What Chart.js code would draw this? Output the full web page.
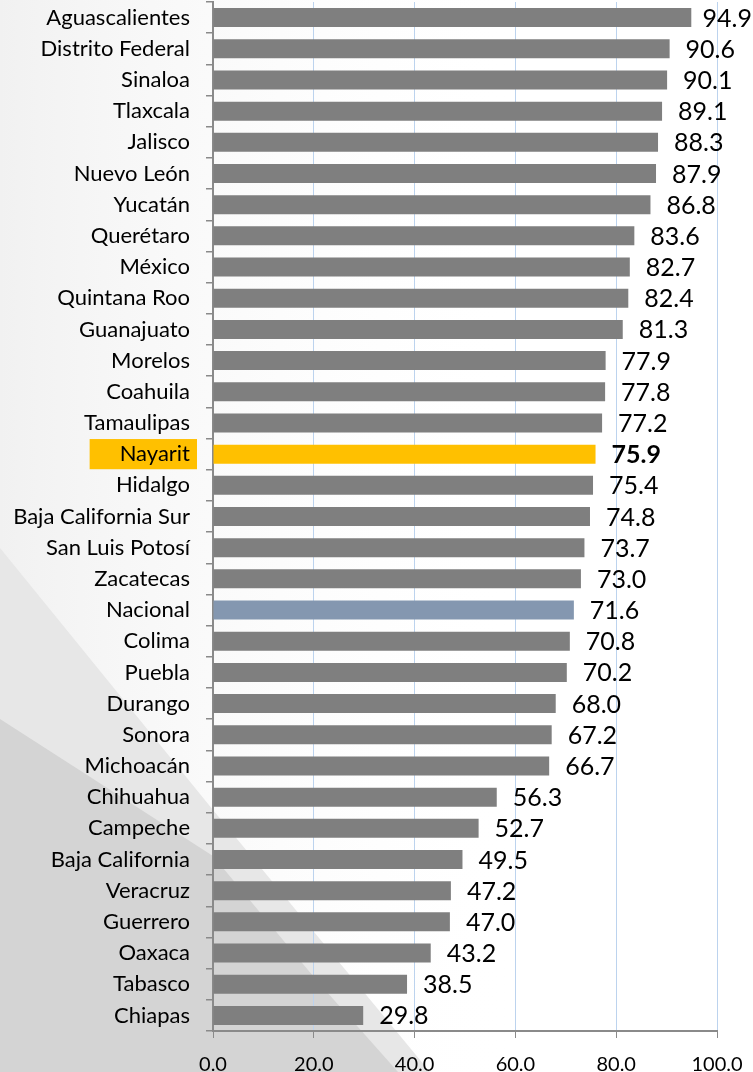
<!DOCTYPE html>
<html lang="es">
<head>
<meta charset="utf-8">
<title>Entidades federativas</title>
<script src="https://cdn.jsdelivr.net/npm/chart.js@4.4.1/dist/chart.umd.min.js"></script>
<style>
    html, body { margin: 0; padding: 0; background: #ffffff; }
    #wrap { width: 753px; height: 1072px; position: relative; }
</style>
</head>
<body>
<div id="wrap"><canvas id="chart"></canvas></div>
<script>
// ---- data ----
const estados = [
    'Aguascalientes', 'Distrito Federal', 'Sinaloa', 'Tlaxcala', 'Jalisco',
    'Nuevo León', 'Yucatán', 'Querétaro', 'México', 'Quintana Roo',
    'Guanajuato', 'Morelos', 'Coahuila', 'Tamaulipas', 'Nayarit',
    'Hidalgo', 'Baja California Sur', 'San Luis Potosí', 'Zacatecas', 'Nacional',
    'Colima', 'Puebla', 'Durango', 'Sonora', 'Michoacán',
    'Chihuahua', 'Campeche', 'Baja California', 'Veracruz', 'Guerrero',
    'Oaxaca', 'Tabasco', 'Chiapas'
];
const valores = [
    94.9, 90.6, 90.1, 89.1, 88.3,
    87.9, 86.8, 83.6, 82.7, 82.4,
    81.3, 77.9, 77.8, 77.2, 75.9,
    75.4, 74.8, 73.7, 73.0, 71.6,
    70.8, 70.2, 68.0, 67.2, 66.7,
    56.3, 52.7, 49.5, 47.2, 47.0,
    43.2, 38.5, 29.8
];
const xTicks = [0, 20, 40, 60, 80, 100];

const DESTACADO = 'Nayarit';
const REFERENCIA = 'Nacional';

const GRIS = '#7F7F7F';
const AMARILLO = '#FFC000';
const AZUL = '#8497B0';
const EJE = '#8A8A8A';
const FONT = 'Lato, "Open Sans", sans-serif';

const colores = estados.map(e => e === DESTACADO ? AMARILLO : (e === REFERENCIA ? AZUL : GRIS));

// Slide background: pale left side with grey diagonal swooshes
const fondo = {
    id: 'fondo',
    beforeDraw(chart) {
        const ctx = chart.ctx;
        const w = chart.width, h = chart.height;
        ctx.save();
        ctx.fillStyle = '#ffffff';
        ctx.fillRect(0, 0, w, h);

        const g = ctx.createLinearGradient(0, 0, 520, 0);
        g.addColorStop(0, '#f1f1f1');
        g.addColorStop(1, 'rgba(255,255,255,0)');
        ctx.fillStyle = g;
        ctx.fillRect(0, 0, w, h);

        ctx.fillStyle = '#e7e7e7';
        ctx.beginPath();
        ctx.moveTo(0, 548);
        ctx.lineTo(213, 810);
        ctx.lineTo(430, h);
        ctx.lineTo(0, h);
        ctx.closePath();
        ctx.fill();

        ctx.fillStyle = '#d4d4d4';
        ctx.beginPath();
        ctx.moveTo(0, 719);
        ctx.lineTo(213, 856);
        ctx.lineTo(318, 982);
        ctx.lineTo(398, h);
        ctx.lineTo(0, h);
        ctx.closePath();
        ctx.fill();

        // highlight box behind the Nayarit category label
        const y = chart.scales.y;
        const i = estados.indexOf(DESTACADO);
        const cy = y.getPixelForValue(i);
        const step = y.getPixelForValue(1) - y.getPixelForValue(0);
        ctx.font = '22px ' + FONT;
        const tw = ctx.measureText(DESTACADO).width;
        const right = chart.chartArea.left - 23;
        ctx.fillStyle = AMARILLO;
        ctx.fillRect(right - tw - 30, cy - step / 2 + 0.5, tw + 37, step - 1);
        ctx.restore();
    }
};

// Value labels just past the end of each bar
const etiquetas = {
    id: 'etiquetas',
    afterDatasetsDraw(chart) {
        const ctx = chart.ctx;
        const meta = chart.getDatasetMeta(0);
        ctx.save();
        ctx.fillStyle = '#000';
        ctx.textAlign = 'left';
        ctx.textBaseline = 'middle';
        meta.data.forEach((bar, i) => {
            const txt = valores[i].toFixed(1);
            ctx.font = (estados[i] === DESTACADO ? 'bold ' : '') + '25px ' + FONT;
            const tw = ctx.measureText(txt).width;
            let x = bar.x + 16;
            if (x + tw > chart.width - 1) x = chart.width - 1 - tw;
            ctx.fillText(txt, x, bar.y + 1);
        });
        ctx.restore();
    }
};

const ctx = document.getElementById('chart').getContext('2d');
new Chart(ctx, {
    type: 'bar',
    data: {
        labels: estados,
        datasets: [{
            data: valores,
            backgroundColor: colores,
            borderWidth: 0,
            barPercentage: 1,
            categoryPercentage: 0.61
        }]
    },
    options: {
        indexAxis: 'y',
        responsive: true,
        maintainAspectRatio: false,
        animation: false,
        layout: { padding: { top: 2, right: 36, left: 0, bottom: 0 } },
        plugins: {
            legend: { display: false },
            tooltip: { enabled: false }
        },
        scales: {
            x: {
                min: 0,
                max: 100,
                afterBuildTicks(scale) {
                    scale.ticks = xTicks.map(v => ({ value: v }));
                },
                afterFit(scale) {
                    scale.height = 41;
                    scale.paddingLeft = 0;
                    scale.paddingRight = 0;
                },
                border: { display: true, color: EJE, width: 2 },
                grid: {
                    color: c => c.tick && c.tick.value === 0 ? 'rgba(0,0,0,0)' : '#BCD3EE',
                    tickColor: EJE,
                    lineWidth: 1,
                    tickLength: 7,
                    drawOnChartArea: true
                },
                ticks: {
                    color: '#000',
                    font: { family: FONT, size: 20 },
                    padding: 15,
                    maxRotation: 0,
                    callback: v => Number(v).toFixed(1)
                }
            },
            y: {
                afterFit(scale) {
                    scale.width = 213;
                    scale.paddingTop = 0;
                    scale.paddingBottom = 0;
                },
                border: { display: true, color: EJE, width: 2 },
                grid: {
                    offset: true,
                    drawOnChartArea: false,
                    drawTicks: true,
                    tickLength: 7,
                    tickColor: EJE,
                    lineWidth: 1.5
                },
                ticks: {
                    color: '#000',
                    font: { family: FONT, size: 22 },
                    padding: 16,
                    autoSkip: false
                }
            }
        }
    },
    plugins: [fondo, etiquetas]
});
</script>
</body>
</html>
